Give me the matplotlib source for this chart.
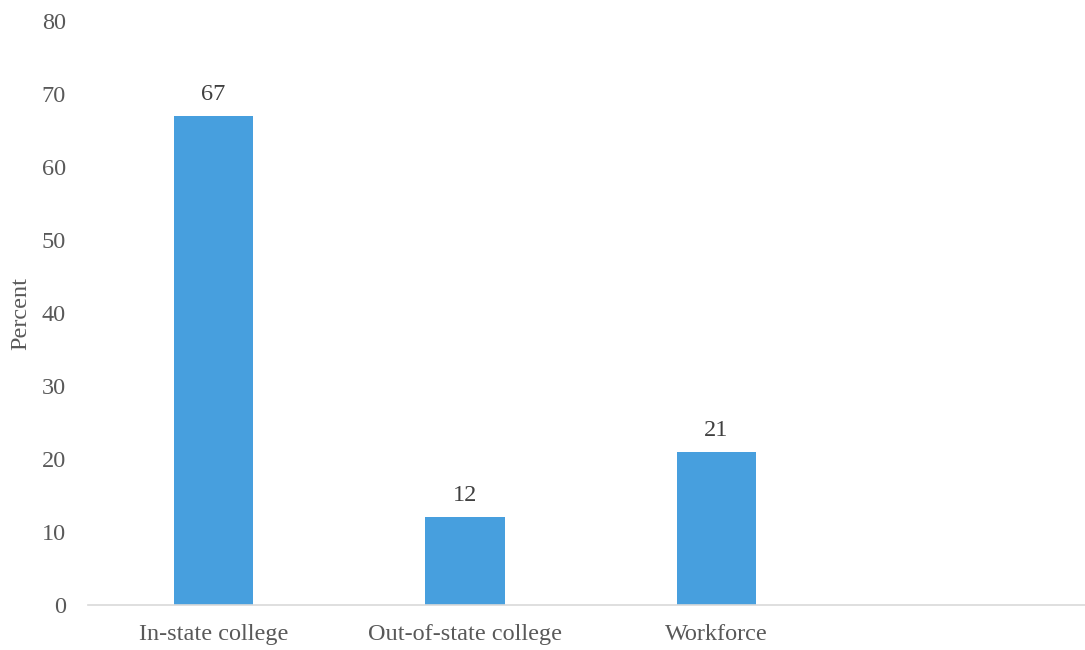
import matplotlib
matplotlib.use("Agg")
import matplotlib.pyplot as plt

categories = ["In-state college", "Out-of-state college", "Workforce", ""]
percents = [67, 12, 21, None]
y_ticks = [0, 10, 20, 30, 40, 50, 60, 70, 80]

plt.rcParams["font.family"] = ["Liberation Serif", "DejaVu Serif"]
text_color = "#595959"
bar_color = "#479fde"

fig = plt.figure(figsize=(10.85, 6.5), dpi=100)
# the category axis runs a little past the right edge of the picture
ax = fig.add_axes([0.081, 0.0692, 0.927, 0.8985])

positions = list(range(len(categories)))
for pos, value in zip(positions, percents):
    if value is None:
        continue
    ax.bar(pos, value, width=0.316, color=bar_color, zorder=2)
    ax.text(pos, value + 1.5, f"{value}", ha="center", va="bottom",
            fontsize=17.5, color="#404040")

ax.set_xlim(-0.5, len(categories) - 0.5)
ax.set_ylim(0, 80)
ax.set_yticks(y_ticks)
ax.set_xticks(positions[:3])
ax.set_xticklabels(categories[:3])
ax.tick_params(axis="both", length=0, labelsize=17.5, colors=text_color)
ax.tick_params(axis="x", pad=14)
ax.tick_params(axis="y", pad=16)

for side in ["top", "right", "left"]:
    ax.spines[side].set_visible(False)
ax.spines["bottom"].set_color("#d9d9d9")
ax.spines["bottom"].set_linewidth(1.2)

ax.set_ylabel("Percent", fontsize=17.5, color=text_color, labelpad=7)

fig.savefig("out.png", dpi=100)
